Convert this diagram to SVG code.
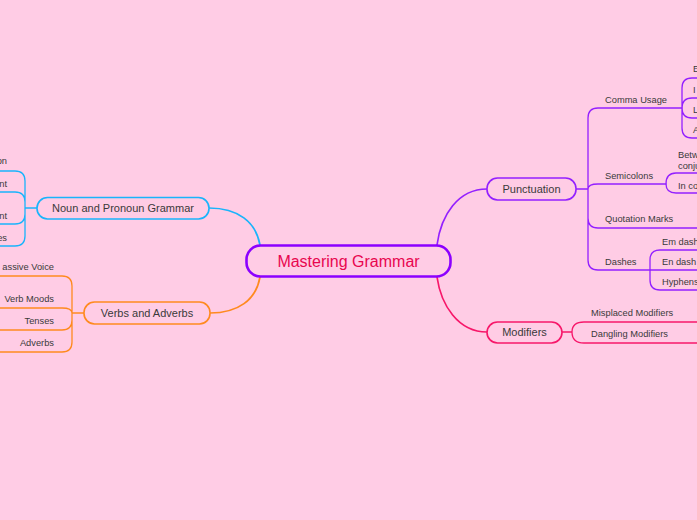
<svg xmlns="http://www.w3.org/2000/svg" width="697" height="520" viewBox="0 0 697 520">
<style>
text{font-family:"Liberation Sans",Arial,sans-serif;fill:#3a3a3a}
.n{font-size:11px;text-anchor:middle}
.s{font-size:9.3px}
.e{text-anchor:end}
.c{fill:none;stroke-linecap:round}
.b{stroke:#1ab4fb}
.o{stroke:#ff8a1f}
.p{stroke:#9420ff}
.r{stroke:#f7176a}
.box{fill:#ffcce5;stroke-width:1.6}
</style>
<rect width="697" height="520" fill="#ffcce5"/>
<g id="connectors" class="c" stroke-width="1.3">
<path class="b" stroke-width="1.7" d="M260,245 C256,222 238,208 209,208"/>
<path class="o" stroke-width="1.7" d="M260,277 C256,300 238,313 210,313"/>
<path class="p" stroke-width="1.7" d="M437,245 C441,215 458,189 487,189"/>
<path class="r" stroke-width="1.7" d="M437,277 C441,305 458,332 487,332"/>
<path class="b" d="M37,208 H25 M25,208 V181 Q25,171 15,171 H-2 M25,208 V202 Q25,192 15,192 H-2 M25,208 V214 Q25,224 15,224 H-2 M25,208 V236 Q25,246 15,246 H-2"/>
<path class="o" d="M84,313 H72 M72,313 V286 Q72,276 62,276 H-2 M72,313 C72,309 68,308 62,308 H-2 M72,313 V320 Q72,330 62,330 H-2 M72,313 V342 Q72,352 62,352 H-2"/>
<path class="p" d="M576,189 H588 M588,189 V118 Q588,108 598,108 H682 M588,189 C588,186 591,184 598,184 H666 M588,189 V218 Q588,228 598,228 H699 M588,189 V260 Q588,270 598,270 H650"/>
<path class="p" d="M682,108 V88 Q682,78 692,78 H699 M682,108 C682,101 685,98 692,98 H699 M682,108 C682,115 685,118 692,118 H699 M682,108 V128 Q682,138 692,138 H699"/>
<path class="p" d="M666,184 C666,177 669,173 676,173 H699 M666,184 C666,190 669,193 676,193 H699"/>
<path class="p" d="M650,270 V260 Q650,250 660,250 H699 M650,270 H699 M650,270 V280 Q650,290 660,290 H699"/>
<path class="r" d="M562,332 H572 M572,332 C572,325 576,322 584,322 H699 M572,332 C572,339 576,343 584,343 H699"/>
</g>
<g id="center">
<rect x="246.5" y="245.5" width="204" height="31" rx="14" fill="#ffcce5" stroke="#8c00ff" stroke-width="2.6"/>
<text x="348.5" y="267" style="font-size:16px;text-anchor:middle;fill:#e8064f">Mastering Grammar</text>
</g>
<g id="noun">
<rect class="box b" x="37" y="197.5" width="172" height="21.5" rx="10.5"/>
<text class="n" x="123" y="212">Noun and Pronoun Grammar</text>
<text class="s e" x="7" y="164">on</text>
<text class="s e" x="7" y="187">nt</text>
<text class="s e" x="7" y="219">nt</text>
<text class="s e" x="7" y="241">es</text>
</g>
<g id="verbs">
<rect class="box o" x="84" y="302" width="126" height="22" rx="10.5"/>
<text class="n" x="147" y="317">Verbs and Adverbs</text>
<text class="s e" x="54" y="270">assive Voice</text>
<text class="s e" x="54" y="302">Verb Moods</text>
<text class="s e" x="54" y="324">Tenses</text>
<text class="s e" x="54" y="346">Adverbs</text>
</g>
<g id="punctuation">
<rect class="box p" x="487" y="178" width="89" height="22" rx="10.5"/>
<text class="n" x="531.5" y="193">Punctuation</text>
<text class="s" x="605" y="103">Comma Usage</text>
<text class="s" x="605" y="179">Semicolons</text>
<text class="s" x="605" y="222">Quotation Marks</text>
<text class="s" x="605" y="265">Dashes</text>
<text class="s" x="693" y="72">E</text>
<text class="s" x="693" y="93">I</text>
<text class="s" x="693" y="113">L</text>
<text class="s" x="693" y="133">A</text>
<text class="s" x="678" y="158">Betw</text>
<text class="s" x="678" y="169">conju</text>
<text class="s" x="678" y="189">In co</text>
<text class="s" x="662" y="245">Em dash</text>
<text class="s" x="662" y="265">En dash</text>
<text class="s" x="662" y="285">Hyphens</text>
</g>
<g id="modifiers">
<rect class="box r" x="487" y="322" width="75" height="21" rx="10.5"/>
<text class="n" x="524.5" y="336">Modifiers</text>
<text class="s" x="591" y="316">Misplaced Modifiers</text>
<text class="s" x="591" y="337">Dangling Modifiers</text>
</g>
</svg>
